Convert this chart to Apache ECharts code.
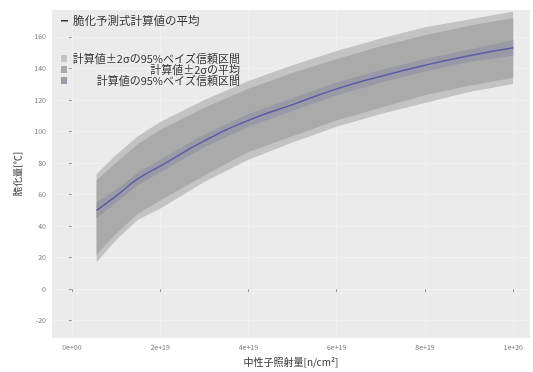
<!DOCTYPE html>
<html><head><meta charset="utf-8">
<script src="https://cdn.jsdelivr.net/npm/echarts@6/dist/echarts.min.js"></script>
<style>html,body{margin:0;padding:0;background:#fff}#c{width:533px;height:372px}</style>
</head><body><div id="c"></div>
<script>
// Neutron fluence (n/cm^2)
var fluence = [0.56e19, 1e19, 1.5e19, 2e19, 3e19, 4e19, 5e19, 6e19, 7e19, 8e19, 9e19, 10e19];
// Mean of predicted embrittlement (°C)
var meanVals = [50, 59, 70, 78, 94, 107, 117, 127, 135, 142, 148, 153];
// 95% Bayesian credible interval of (value ± 2σ)
var outerLo = [17, 31, 44, 51, 68, 82, 93, 103, 111, 118, 125, 130];
var outerHi = [73, 85, 97, 106, 120, 132, 142, 151, 159, 166, 171, 176];
// Mean of (value ± 2σ)
var midLo = [22, 35, 48, 56, 72, 87, 97, 107, 115, 123, 129, 134];
var midHi = [69, 80, 92, 101, 115, 127, 137, 146, 154, 161, 167, 172];
// 95% Bayesian credible interval of the value
var innerLo = [45, 55, 66, 74, 90, 103, 113, 123, 131, 138, 144, 148];
var innerHi = [55, 63, 74, 82, 98, 111, 121, 131, 139, 146, 152, 158];
// Axis ticks
var xTicks = [0, 2e19, 4e19, 6e19, 8e19, 1e20];
var xTickLabels = ['0e+00', '2e+19', '4e+19', '6e+19', '8e+19', '1e+20'];
var yTicks = [-20, 0, 20, 40, 60, 80, 100, 120, 140, 160];

var names = {
  line: '脆化予測式計算値の平均',
  outer: '計算値±2σの95%ベイズ信頼区間',
  mid: '計算値±2σの平均',
  inner: '計算値の95%ベイズ信頼区間'
};
var colors = { outer: '#c3c3c3', mid: '#aaaaaa', inner: '#9a9aa6', line: '#5c5ca6' };

function bandSeries(name, lo, hi, color, z) {
  return {
    type: 'custom', name: name, z: z,
    data: fluence.map(function (x, i) { return [x, lo[i], hi[i]]; }),
    itemStyle: { color: color },
    renderItem: function (params, api) {
      if (params.dataIndex !== 0) return null;
      var pts = [];
      for (var i = 0; i < fluence.length; i++) pts.push(api.coord([fluence[i], hi[i]]));
      for (var j = fluence.length - 1; j >= 0; j--) pts.push(api.coord([fluence[j], lo[j]]));
      return { type: 'polygon', shape: { points: pts, smooth: 0 }, style: { fill: color } };
    }
  };
}

var chart = echarts.init(document.getElementById('c'), null, { renderer: 'canvas' });
var xLabelMap = {};
xTicks.forEach(function (v, i) { xLabelMap[v] = xTickLabels[i]; });

chart.setOption({
  animation: false,
  backgroundColor: '#fff',
  textStyle: { fontFamily: 'Noto Sans CJK JP' },
  grid: { left: 52, right: 3, top: 10, bottom: 30, show: true, backgroundColor: '#ebebeb', borderWidth: 0 },
  xAxis: {
    type: 'value', min: -0.45e19, max: 10.38e19,
    name: '中性子照射量[n/cm²]', nameLocation: 'middle', nameGap: 19,
    nameTextStyle: { fontSize: 10, color: '#333' },
    axisLine: { show: false },
    axisTick: { show: true, customValues: xTicks, length: 3, lineStyle: { color: '#999' } },
    axisLabel: { customValues: xTicks, fontSize: 7, color: '#777', margin: 6,
      formatter: function (v) { return xLabelMap[v] !== undefined ? xLabelMap[v] : ''; } },
    splitLine: { show: true, lineStyle: { color: '#f1f1f1', width: 1 } }
  },
  yAxis: {
    type: 'value', min: -31, max: 177,
    name: '脆化量[℃]', nameLocation: 'middle', nameGap: 30, nameRotate: 90,
    nameTextStyle: { fontSize: 9.5, color: '#333' },
    axisLine: { show: false },
    axisTick: { show: true, customValues: yTicks, length: 3, lineStyle: { color: '#999' } },
    axisLabel: { customValues: yTicks, fontSize: 7, color: '#777', margin: 6 },
    splitLine: { show: true, lineStyle: { color: '#f1f1f1', width: 1 } }
  },
  legend: [
    {
      left: 56, top: 10, orient: 'vertical', itemWidth: 7, itemHeight: 1.5,
      textStyle: { fontSize: 11.5, color: '#333' }, itemGap: 2,
      data: [{ name: names.line, icon: 'rect', itemStyle: { color: '#333' } }]
    },
    {
      left: 56, top: 48, orient: 'vertical', itemWidth: 6, itemHeight: 7, itemGap: 0,
      formatter: function (n) { return '{r|' + n + '}'; },
      textStyle: { fontSize: 11, color: '#333',
        rich: { r: { width: 168, align: 'right', fontSize: 11, lineHeight: 9, color: '#333' } } },
      data: [
        { name: names.outer, icon: 'rect', itemStyle: { color: colors.outer } },
        { name: names.mid, icon: 'rect', itemStyle: { color: colors.mid } },
        { name: names.inner, icon: 'rect', itemStyle: { color: colors.inner } }
      ]
    }
  ],
  series: [
    bandSeries(names.outer, outerLo, outerHi, colors.outer, 1),
    bandSeries(names.mid, midLo, midHi, colors.mid, 2),
    bandSeries(names.inner, innerLo, innerHi, colors.inner, 3),
    {
      type: 'line', name: names.line, z: 4, smooth: true, symbol: 'none',
      data: fluence.map(function (x, i) { return [x, meanVals[i]]; }),
      lineStyle: { color: colors.line, width: 1.5 }, itemStyle: { color: colors.line }
    }
  ]
});
</script>
</body></html>
